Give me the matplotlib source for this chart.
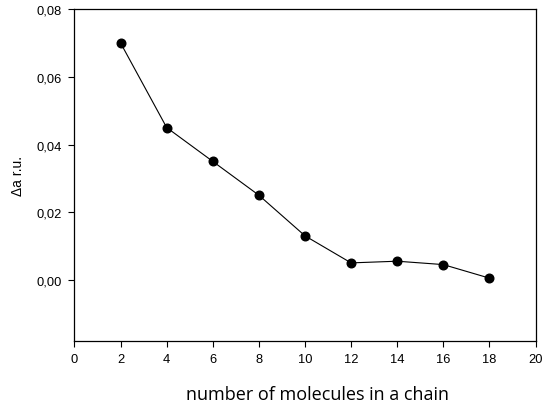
import matplotlib

matplotlib.use("Agg")
import matplotlib.pyplot as plt

# data
chain_length = [2, 4, 6, 8, 10, 12, 14, 16, 18]
delta_a = [0.070, 0.045, 0.035, 0.025, 0.013, 0.005, 0.0055, 0.0045, 0.0005]

x_ticks = [0, 2, 4, 6, 8, 10, 12, 14, 16, 18, 20]
y_ticks = [0.00, 0.02, 0.04, 0.06, 0.08]
y_tick_labels = ["0,00", "0,02", "0,04", "0,06", "0,08"]

plt.rcParams["font.family"] = ["Liberation Sans", "DejaVu Sans"]

fig = plt.figure(figsize=(5.48, 4.06), dpi=100)
ax = fig.add_axes([74.5 / 548, 1 - 341.7 / 406, 461 / 548, 331.5 / 406])

ax.plot(chain_length, delta_a, color="black", lw=0.8, marker="o", ms=6.2,
        markerfacecolor="black", markeredgecolor="black")

ax.set_xlim(0, 20)
ax.set_ylim(-0.018, 0.08)
ax.set_xticks(x_ticks)
ax.set_xticklabels([str(t) for t in x_ticks])
ax.set_yticks(y_ticks)
ax.set_yticklabels(y_tick_labels)
ax.tick_params(direction="out", length=4, width=0.8, labelsize=9.25,
               top=False, right=False, pad=5)
for s in ax.spines.values():
    s.set_linewidth(0.9)

ax.set_ylabel("\u0394a r.u.", fontsize=10)
ax.yaxis.set_label_coords(-0.108, 0.5)
fig.text(318 / 548, 1 - 395 / 406, "number of molecules in a chain",
         ha="center", va="center", fontsize=13, family=["Open Sans", "DejaVu Sans"])

fig.savefig("out.png", dpi=100)
plt.close(fig)
